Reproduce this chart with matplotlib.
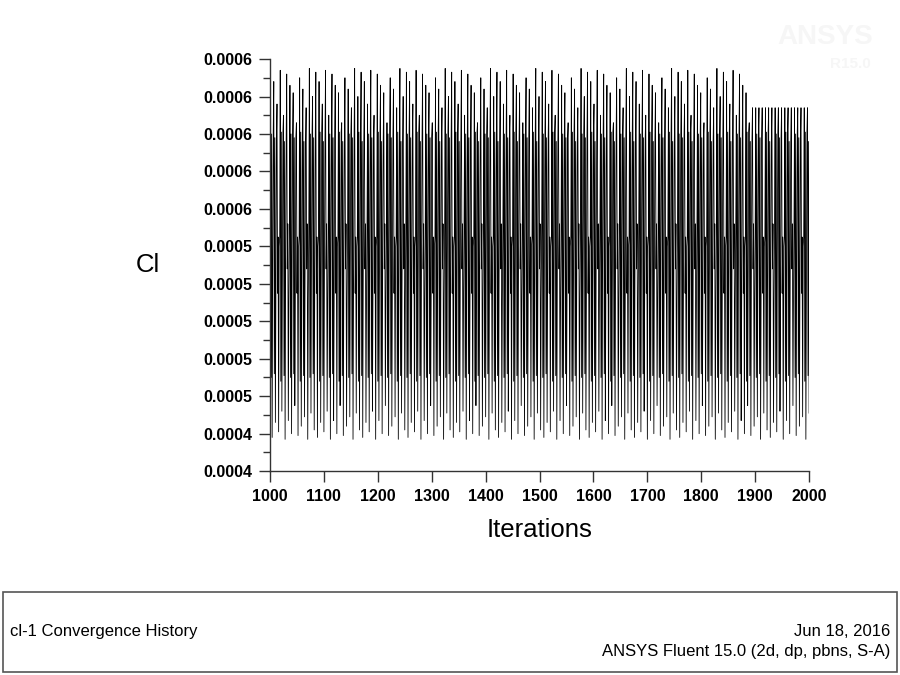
import numpy as np
import matplotlib.pyplot as plt
from matplotlib.patches import Rectangle
from matplotlib.ticker import FormatStrFormatter, MultipleLocator

plt.rcParams['font.family'] = ['Liberation Sans', 'DejaVu Sans']

# values, one entry per oscillation cycle (repeating pattern)
peak_pattern = [0.000633, 0.000628, 0.000616, 0.000634, 0.000610, 0.000632,
                0.000626, 0.000622, 0.000606, 0.000630, 0.000624, 0.000614,
                0.000635, 0.000620]
trough_pattern = [0.000438, 0.000446, 0.000441, 0.000452, 0.000437, 0.000447,
                  0.000440, 0.000455, 0.000439, 0.000444, 0.000449, 0.000437,
                  0.000451, 0.000442]
upper_shoulder = [0.000600, 0.000598, 0.000545, 0.000601, 0.000596, 0.000552]
lower_shoulder = [0.000470, 0.000472, 0.000515, 0.000468, 0.000471, 0.000528]
mid_values = [0.000535, 0.000515, 0.000540, 0.000520, 0.000530, 0.000512]

tail_peak = 0.000614        # peak level after the change near iteration 1895
tail_start = 1895
iter_start, iter_end = 1001, 2000
cycle_len = 6

# build the per-iteration series from the cycle readings
iterations = np.arange(iter_start, iter_end + 1)
cl = []
for k, it in enumerate(iterations):
    c = k // cycle_len
    phase = k % cycle_len
    pk = peak_pattern[c % len(peak_pattern)]
    if it >= tail_start:
        pk = tail_peak
    tr = trough_pattern[c % len(trough_pattern)]
    j = c % len(upper_shoulder)
    seq = [pk, lower_shoulder[j], upper_shoulder[j], tr, mid_values[j], upper_shoulder[j]]
    cl.append(seq[phase])

fig = plt.figure(figsize=(9, 6.75), dpi=100)
ax = fig.add_axes([0.3, 0.302, 0.599, 0.6105])

ax.plot(iterations, cl, color='black', lw=0.6)

ax.set_xlim(1000, 2000)
ax.set_ylim(0.00042, 0.00064)
ax.xaxis.set_major_locator(MultipleLocator(100))
ax.yaxis.set_major_locator(MultipleLocator(0.00002))
ax.yaxis.set_minor_locator(MultipleLocator(0.00001))
ax.yaxis.set_major_formatter(FormatStrFormatter('%.4f'))
ax.yaxis.get_offset_text().set_visible(False)

for s in ['top', 'right']:
    ax.spines[s].set_visible(False)
for s in ['left', 'bottom']:
    ax.spines[s].set_color('#333333')
    ax.spines[s].set_linewidth(1.0)

ax.tick_params(axis='both', which='major', length=8, width=1, color='#333333',
               labelsize=11.5, pad=5)
ax.tick_params(axis='y', which='minor', length=5, width=1, color='#333333')
for lab in ax.get_xticklabels() + ax.get_yticklabels():
    lab.set_fontweight('bold')

ax.set_xlabel('Iterations', fontsize=18.5, labelpad=10)
ax.set_ylabel('Cl', fontsize=18.5, rotation=0, labelpad=40, va='center')

# faint watermark
fig.text(0.917, 0.935, 'ANSYS', fontsize=20, color='#f6f6f6', ha='center', weight='bold')
fig.text(0.945, 0.9, 'R15.0', fontsize=11, color='#f6f6f6', ha='center', weight='bold')

# footer box
fig.patches.append(Rectangle((0.003, 0.005), 0.994, 0.118, transform=fig.transFigure,
                             fill=False, edgecolor='#555555', lw=1.2))
fig.text(0.011, 0.064, 'cl-1 Convergence History', fontsize=12, va='center')
fig.text(0.989, 0.064, 'Jun 18, 2016', fontsize=12, va='center', ha='right')
fig.text(0.989, 0.035, 'ANSYS Fluent 15.0 (2d, dp, pbns, S-A)', fontsize=12,
         va='center', ha='right')

fig.savefig('out.png', dpi=100, facecolor='white')
